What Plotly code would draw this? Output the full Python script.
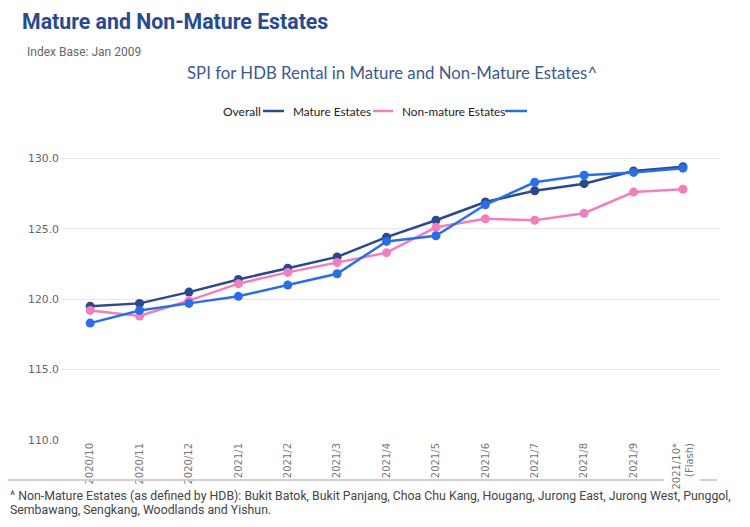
import plotly.graph_objects as go

months = ["2020/10", "2020/11", "2020/12", "2021/1", "2021/2", "2021/3", "2021/4",
          "2021/5", "2021/6", "2021/7", "2021/8", "2021/9", "2021/10*<br>(Flash)"]
overall = [119.5, 119.7, 120.5, 121.4, 122.2, 123.0, 124.4, 125.6, 126.9, 127.7, 128.2, 129.1, 129.4]
mature = [119.2, 118.8, 119.9, 121.1, 121.9, 122.6, 123.3, 125.1, 125.7, 125.6, 126.1, 127.6, 127.8]
non_mature = [118.3, 119.2, 119.7, 120.2, 121.0, 121.8, 124.1, 124.5, 126.7, 128.3, 128.8, 129.0, 129.3]
y_ticks = [110, 115, 120, 125, 130]

NAVY = "#2b4a8e"
PINK = "#f27fbd"
BLUE = "#2a6ee6"

# page has an 8px body margin, so the figure is shifted by OFF
OFF = 8
FW, FH = 750 - 2 * OFF, 527 - 2 * OFF
# plot area in page pixels
L, R, T, B = 62, 720, 140, 440
W, H = R - L, B - T


def px(x):
    return (x - L) / W


def py(y):
    return (B - y) / H


fig = go.Figure()
for name, vals, color in [("Overall", overall, NAVY),
                          ("Mature Estates", mature, PINK),
                          ("Non-mature Estates", non_mature, BLUE)]:
    fig.add_trace(go.Scatter(
        x=months, y=vals, name=name, mode="lines+markers",
        line=dict(color=color, width=2.5),
        marker=dict(color=color, size=9),
    ))

fig.update_layout(
    width=FW, height=FH,
    margin=dict(l=L - OFF, r=FW - (R - OFF), t=T - OFF, b=FH - (B - OFF)),
    plot_bgcolor="white",
    paper_bgcolor="white",
    font_family="Lato",
    showlegend=False,
    title=dict(
        text="<b>Mature and Non-Mature Estates</b>",
        x=(22 - OFF) / FW, xref="container", xanchor="left",
        y=1 - (22 - OFF) / FH, yref="container", yanchor="middle",
        font=dict(size=21.3, color="#284a8f", family="Roboto"),
    ),
    xaxis=dict(
        type="category", range=[-0.57, 12.75],
        showgrid=False, zeroline=False, showline=False, ticks="",
        tickangle=-90, tickfont=dict(family="DejaVu Sans", size=10, color="#777"),
    ),
    yaxis=dict(
        range=[110, 131.3], tickvals=y_ticks, tickformat=".1f",
        showgrid=True, gridcolor="#e8e8e8", zeroline=False, showline=False,
        tickfont=dict(family="DejaVu Sans", size=10.8, color="#666"),
        ticklabelstandoff=2,
    ),
)

note = ["^ Non-Mature Estates (as defined by HDB): Bukit Batok, Bukit Panjang, Choa Chu Kang, "
        "Hougang, Jurong East, Jurong West, Punggol,",
        "Sembawang, Sengkang, Woodlands and Yishun."]

annots = [
    dict(text="Index Base: Jan 2009", x=px(25), y=py(52), xanchor="left",
         font=dict(size=12, color="#666", family="Roboto")),
    dict(text="SPI for HDB Rental in Mature and Non-Mature Estates^", x=px(392), y=py(72),
         xanchor="center", font=dict(size=16.8, color="#3d5a8c", family="Lato")),
    dict(text="Overall", x=px(221), y=py(111), xanchor="left",
         font=dict(size=12, color="#222")),
    dict(text="Mature Estates", x=px(291), y=py(111), xanchor="left",
         font=dict(size=11.8, color="#222")),
    dict(text="Non-mature Estates", x=px(400), y=py(111), xanchor="left",
         font=dict(size=11.8, color="#222")),
    dict(text=note[0], x=px(8), y=py(496), xanchor="left",
         font=dict(size=12.3, color="#444", family="Roboto")),
    dict(text=note[1], x=px(8), y=py(510), xanchor="left",
         font=dict(size=12.3, color="#444", family="Roboto")),
]
for a in annots:
    fig.add_annotation(xref="paper", yref="paper", showarrow=False, yanchor="middle", **a)

# legend swatches
for x0, x1, color in [(263, 284, NAVY), (373, 393, PINK), (505, 527, BLUE)]:
    fig.add_shape(type="line", xref="paper", yref="paper", x0=px(x0), x1=px(x1), y0=py(111), y1=py(111),
                  line=dict(color=color, width=2.5))

# separator line under the x labels
for x0, x1 in [(8, 664), (700, 717)]:
    fig.add_shape(type="line", xref="paper", yref="paper", x0=px(x0), x1=px(x1), y0=py(480), y1=py(480),
                  line=dict(color="#d0d0d0", width=2))

fig.write_html("out.html")
